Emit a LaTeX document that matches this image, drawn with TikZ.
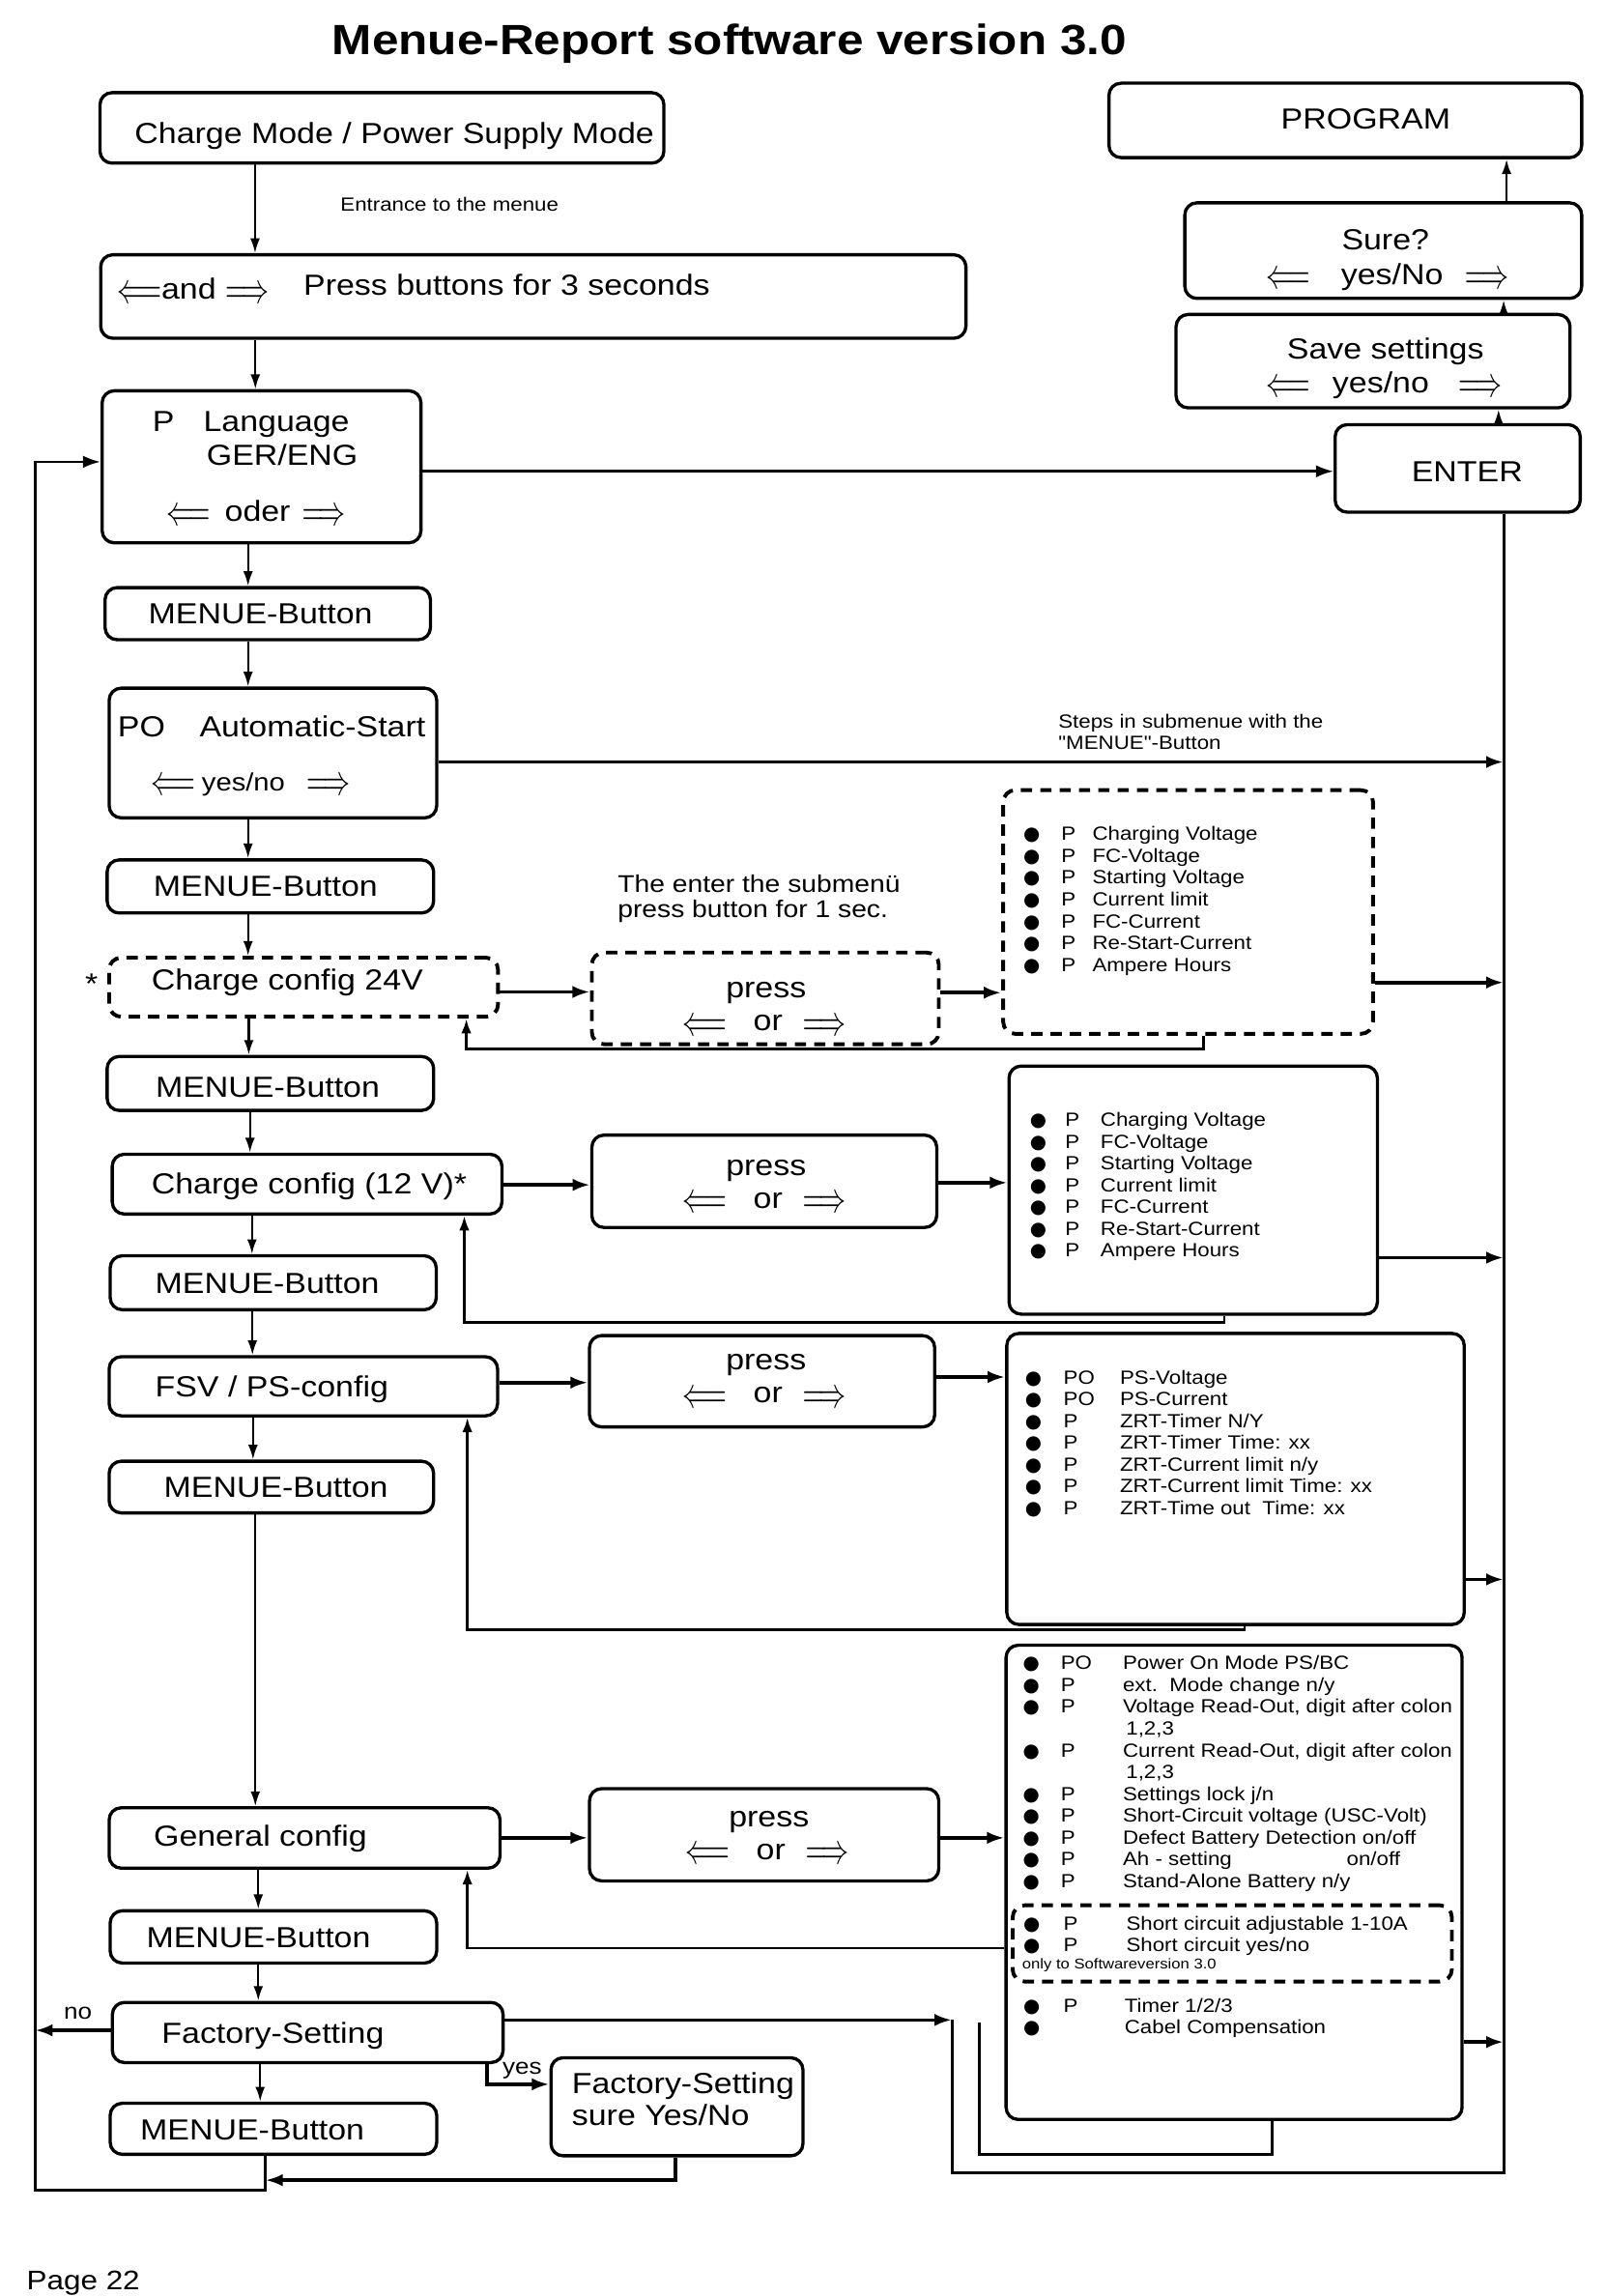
\documentclass[tikz,border=0pt]{standalone}
\usepackage{fontspec}
\usepackage{graphicx}
\setmainfont{Liberation Sans}[FakeStretch=1.13]
\newfontfamily\dotfont{DejaVu Sans}
\newfontfamily\plainfont{Liberation Sans}[FakeStretch=1.13]
\usetikzlibrary{arrows.meta, positioning, fit}

\newcommand{\leftkey}{\raisebox{-1.6pt}{\scalebox{0.92}[1.45]{$\Longleftarrow$}}}
\newcommand{\rightkey}{\raisebox{-1.6pt}{\scalebox{0.92}[1.45]{$\Longrightarrow$}}}
\newcommand{\dotmark}{{\dotfont ●}}
\newcommand{\chargeitems}[2]{%
    \begin{tabular}{@{}p{#1}@{}p{#2}@{}l@{}}
        \dotmark & P & Charging Voltage\\
        \dotmark & P & FC-Voltage\\
        \dotmark & P & Starting Voltage\\
        \dotmark & P & Current limit\\
        \dotmark & P & FC-Current\\
        \dotmark & P & Re-Start-Current\\
        \dotmark & P & Ampere Hours
    \end{tabular}}

\tikzset{
    box/.style={
        draw,
        line width=1.2pt,
        rounded corners=4.5pt,
        inner sep=0pt,
    },
    dbox/.style={
        box,
        line width=1.4pt,
        dash pattern=on 4.2pt off 3pt,
    },
    lbl/.style={
        inner sep=0pt,
        anchor=base west,
        font=\fontsize{10.8}{13}\selectfont,
    },
    note/.style={
        inner sep=0pt,
        anchor=base west,
        font=\fontsize{7.1}{8.5}\selectfont,
    },
    entries/.style={
        inner sep=0pt,
        anchor=north west,
        font=\fontsize{7.1}{8.1}\selectfont,
    },
    flow/.style={-{Latex[length=5.5pt,width=3.6pt]}, line width=0.8pt},
    link/.style={-{Latex[length=6.5pt,width=4.6pt]}, line width=1.3pt},
    back/.style={-{Latex[length=5.5pt,width=3.8pt]}, line width=1pt},
    bus/.style={line width=1.1pt},
}

\begin{document}
\begin{tikzpicture}[x=0.5432pt, y=-0.5432pt]
    \useasboundingbox (0,0) rectangle (1100,1573.5);

    \node[inner sep=0pt, anchor=base, font=\fontsize{15.75}{18}\selectfont\bfseries] (title) at (500,37.6) {Menue-Report software version 3.0};

    % left column
    \node[box, fit={(68.5,63.5) (455,111.8)}] (mode) {};
    \node[lbl] (modetxt) at (92,98.4) {Charge Mode / Power Supply Mode};
    \node[note] (entrytxt) at (233,144.7) {Entrance to the menue};

    \node[box, fit={(69,174.6) (662,231.8)}] (entry) {};
    \node[lbl] (entrykeys) at (80.4,204.7) {\leftkey and \rightkey};
    \node[lbl] (entryhint) at (207.7,202.4) {Press buttons for 3 seconds};

    \node[box, fit={(70,267.8) (288.5,372)}] (lang) {};
    \node[lbl] (langp) at (104.2,295.8) {P};
    \node[lbl] (langtxt) at (139.1,295.8) {Language};
    \node[lbl] (langval) at (141.3,319) {GER/ENG};
    \node[lbl] (langkeys) at (113.7,357) {\leftkey\hspace{5.5pt}oder\hspace{4.3pt}\rightkey};

    \node[box, fit={(72,402.7) (295,438.4)}] (menue1) {};
    \node[lbl] (menue1txt) at (101.4,427.4) {MENUE-Button};

    \node[box, fit={(74.8,471.6) (299.3,560.5)}] (auto) {};
    \node[lbl] (autop) at (80.4,505) {PO};
    \node[lbl] (autotxt) at (136.4,505) {Automatic-Start};
    \node[lbl] (autokeys) at (103.5,542) {\leftkey\hspace{2.5pt}{\fontsize{9.3}{11}\selectfont yes/no}\hspace{8pt}\rightkey};

    \node[box, fit={(73.4,589.3) (297.2,625.7)}] (menue2) {};
    \node[lbl] (menue2txt) at (104.9,614.3) {MENUE-Button};

    \node[dbox, fit={(74.8,656.3) (341.3,696.8)}] (cfg24) {};
    \node[lbl] (cfg24txt) at (103.5,678.5) {Charge config 24V};
    \node[lbl] (star) at (58,681) {*};

    \node[box, fit={(73.4,724) (297.2,761)}] (menue3) {};
    \node[lbl] (menue3txt) at (106.3,751.8) {MENUE-Button};

    \node[box, fit={(76.9,791) (344,832)}] (cfg12) {};
    \node[lbl] (cfg12txt) at (103.5,818.5) {Charge config (12 V)*};

    \node[box, fit={(75.5,860.6) (299,897.6)}] (menue4) {};
    \node[lbl] (menue4txt) at (106,886.3) {MENUE-Button};

    \node[box, fit={(74.8,929.8) (341,970.3)}] (fsv) {};
    \node[lbl] (fsvtxt) at (106,957) {FSV / PS-config};

    \node[box, fit={(74.8,1001.4) (297.2,1036.8)}] (menue5) {};
    \node[lbl] (menue5txt) at (112,1026) {MENUE-Button};

    \node[box, fit={(74.8,1238.9) (342.7,1280.3)}] (general) {};
    \node[lbl] (generaltxt) at (105,1265) {General config};

    \node[box, fit={(75.5,1309.5) (299.3,1345.3)}] (menue6) {};
    \node[lbl] (menue6txt) at (100,1334.8) {MENUE-Button};

    \node[box, fit={(77,1372.3) (344.8,1413.5)}] (factory) {};
    \node[lbl] (factorytxt) at (110.5,1400.6) {Factory-Setting};

    \node[box, fit={(75.5,1441.4) (299.3,1476.4)}] (menue7) {};
    \node[lbl] (menue7txt) at (95.8,1466.5) {MENUE-Button};

    \node[box, fit={(377.6,1410.2) (550.3,1477.4)}] (factsure) {};
    \node[lbl] (factsurea) at (391.6,1434.7) {Factory-Setting};
    \node[lbl] (factsureb) at (391.6,1456.7) {sure Yes/No};

    % selection boxes
    \node[note, font=\fontsize{9}{10}\selectfont] (hint1) at (423,611.4) {The enter the submenü};
    \node[note, font=\fontsize{9}{10}\selectfont] (hint2) at (423,628.5) {press button for 1 sec.};

    \node[dbox, fit={(405.6,652.8) (643.4,715.6)}] (sel24) {};
    \node[lbl, anchor=base] (sel24a) at (525,684) {press};
    \node[lbl, anchor=base] (sel24b) at (524,706.5) {\leftkey\hspace{10pt}or\hspace{7.5pt}\rightkey};

    \node[box, fit={(405.6,777.9) (642,841.2)}] (sel12) {};
    \node[lbl, anchor=base] (sel12a) at (525,805.7) {press};
    \node[lbl, anchor=base] (sel12b) at (524,828) {\leftkey\hspace{10pt}or\hspace{7.5pt}\rightkey};

    \node[box, fit={(404,915.3) (640.6,977.9)}] (selps) {};
    \node[lbl, anchor=base] (selpsa) at (525,938.5) {press};
    \node[lbl, anchor=base] (selpsb) at (524,961.5) {\leftkey\hspace{10pt}or\hspace{7.5pt}\rightkey};

    \node[box, fit={(404,1225.8) (643.4,1289)}] (selgen) {};
    \node[lbl, anchor=base] (selgena) at (527,1252) {press};
    \node[lbl, anchor=base] (selgenb) at (526,1274.5) {\leftkey\hspace{10pt}or\hspace{7.5pt}\rightkey};

    % parameter lists
    \node[dbox, fit={(687.5,541.5) (941,708.5)}] (list24) {};
    \node[entries] (list24txt) at (701,565.3) {\chargeitems{14.1pt}{11.6pt}};

    \node[box, fit={(691.5,730.6) (944,900.6)}] (list12) {};
    \node[entries] (list12txt) at (705.5,761.1) {\chargeitems{13.1pt}{13.2pt}};

    \node[box, fit={(690,913.8) (1003.5,1113.3)}] (listps) {};
    \node[entries] (listpstxt) at (702.2,937.7) {%
        \begin{tabular}{@{}p{14.3pt}@{}p{21pt}@{}l@{}}
            \dotmark & PO & PS-Voltage\\
            \dotmark & PO & PS-Current\\
            \dotmark & P & ZRT-Timer N/Y\\
            \dotmark & P & ZRT-Timer Time: xx\\
            \dotmark & P & ZRT-Current limit n/y\\
            \dotmark & P & ZRT-Current limit Time: xx\\
            \dotmark & P & ZRT-Time out\ \ Time: xx
        \end{tabular}};

    \node[box, fit={(689.5,1127.5) (1002,1452.5)}] (listgen) {};
    \node[entries] (listgentxt) at (700.7,1133.5) {%
        \begin{tabular}{@{}p{14.1pt}@{}p{23.1pt}@{}l@{}}
            \dotmark & PO & Power On Mode PS/BC\\
            \dotmark & P & ext.\ \ Mode change n/y\\
            \dotmark & P & Voltage Read-Out, digit after colon\\
              &   & \hspace{1.2pt}1,2,3\\
            \dotmark & P & Current Read-Out, digit after colon\\
              &   & \hspace{1.2pt}1,2,3\\
            \dotmark & P & Settings lock j/n\\
            \dotmark & P & Short-Circuit voltage (USC-Volt)\\
            \dotmark & P & Defect Battery Detection on/off\\
            \dotmark & P & \makebox[83.3pt][l]{Ah - setting}on/off\\
            \dotmark & P & Stand-Alone Battery n/y
        \end{tabular}};
    \node[dbox, fit={(694,1305.7) (995,1358)}] (listsc) {};
    \node[entries] (listsctxt) at (701,1311.9) {%
        \begin{tabular}{@{}p{14.9pt}@{}p{23.4pt}@{}l@{}}
            \dotmark & P & Short circuit adjustable 1-10A\\
            \dotmark & P & Short circuit yes/no
        \end{tabular}};
    \node[note, font=\fontsize{5.3}{6}\selectfont] (scnote) at (700.2,1349.2) {only to Softwareversion 3.0};
    \node[entries] (listtimer) at (701,1368.2) {%
        \begin{tabular}{@{}p{14.9pt}@{}p{22.8pt}@{}l@{}}
            \dotmark & P & Timer 1/2/3\\
            \dotmark &   & Cabel Compensation
        \end{tabular}};

    % right column
    \node[box, fit={(760,57) (1084,108)}] (program) {};
    \node[lbl, anchor=base] (programtxt) at (936,88.7) {PROGRAM};
    \node[box, fit={(812,139) (1084,204.5)}] (sure) {};
    \node[lbl, anchor=base] (suretxt) at (949.5,171) {Sure?};
    \node[lbl] (surekeys) at (867.5,195) {\leftkey\hspace{11.6pt}yes/No\hspace{8.1pt}\rightkey};
    \node[box, fit={(806,215.5) (1076,279.5)}] (save) {};
    \node[lbl, anchor=base] (savetxt) at (949.5,246) {Save settings};
    \node[lbl] (savekeys) at (867.5,269) {\leftkey\hspace{8.4pt}yes/no\hspace{10.9pt}\rightkey};
    \node[box, fit={(915,291) (1083,351)}] (enter) {};
    \node[lbl, anchor=base] (entertxt) at (1005.5,330) {ENTER};

    \node[note] (steps1) at (725,499) {Steps in submenue with the};
    \node[note] (steps2) at (725,513.7) {{\plainfont "MENUE"}-Button};
    \node[lbl, font=\fontsize{8.3}{10}\selectfont] (notxt) at (43.4,1383.5) {no};
    \node[lbl, font=\fontsize{8.3}{10}\selectfont] (yestxt) at (344,1421.4) {yes};
    \node[lbl, font=\fontsize{10}{12}\selectfont] (page) at (18,1569) {Page 22};

    % main chain
    \draw[flow] (mode.south -| 174.8,0) -- (entry.north -| 174.8,0);
    \draw[flow] (entry.south -| 175,0) -- (lang.north -| 175,0);
    \draw[flow] (lang.south -| 170,0) -- (menue1.north -| 170,0);
    \draw[flow] (menue1.south -| 170,0) -- (auto.north -| 170,0);
    \draw[flow] (auto.south -| 170,0) -- (menue2.north -| 170,0);
    \draw[flow] (menue2.south -| 170,0) -- (cfg24.north -| 170,0);
    \draw[flow] (cfg24.south -| 170.5,0) -- (menue3.north -| 170.5,0);
    \draw[flow] (menue3.south -| 171.3,0) -- (cfg12.north -| 171.3,0);
    \draw[flow] (cfg12.south -| 172.7,0) -- (menue4.north -| 172.7,0);
    \draw[flow] (menue4.south -| 173,0) -- (fsv.north -| 173,0);
    \draw[flow] (fsv.south -| 173.4,0) -- (menue5.north -| 173.4,0);
    \draw[flow] (menue5.south -| 175,0) -- (general.north -| 175,0);
    \draw[flow] (general.south -| 177,0) -- (menue6.north -| 177,0);
    \draw[flow] (menue6.south -| 177,0) -- (factory.north -| 177,0);
    \draw[flow] (factory.south -| 178.3,0) -- (menue7.north -| 178.3,0);

    % program path
    \draw[link, line width=0.9pt] (lang.east |- 0,323) -- (enter.west |- 0,323);
    \draw[flow] (enter.north -| 1027,0) -- (save.south -| 1027,0);
    \draw[flow] (save.north -| 1030.5,0) -- (sure.south -| 1030.5,0);
    \draw[flow] (sure.north -| 1032.5,0) -- (program.south -| 1032.5,0);

    % submenues
    \draw[link] (cfg24.east |- 0,679.8) -- (sel24.west |- 0,679.8);
    \draw[link] (sel24.east |- 0,680.3) -- (list24.west |- 0,680.3);
    \draw[back] (list24.south -| 825,0) -- (825,718.7) -- (319.6,718.7) -- (cfg24.south -| 319.6,0);

    \draw[link] (cfg12.east |- 0,812) -- (sel12.west |- 0,812);
    \draw[link] (sel12.east |- 0,810.5) -- (list12.west |- 0,810.5);
    \draw[back] (list12.south -| 839,0) -- (839,906.2) -- (318.2,906.2) -- (cfg12.south -| 318.2,0);

    \draw[link] (fsv.east |- 0,947.5) -- (selps.west |- 0,947.5);
    \draw[link] (selps.east |- 0,943.7) -- (listps.west |- 0,943.7);
    \draw[back] (listps.south -| 853,0) -- (853,1117) -- (320.3,1117) -- (fsv.south -| 320.3,0);

    \draw[link] (general.east |- 0,1259.5) -- (selgen.west |- 0,1259.5);
    \draw[link] (selgen.east |- 0,1259.5) -- (listgen.west |- 0,1259.5);
    \draw[back] (listgen.west |- 0,1335) -- (320.3,1335) -- (general.south -| 320.3,0);

    % collecting line to ENTER
    \coordinate (bus) at (1030.5,351);
    \coordinate (fsjoin) at (652.4,1384.3);
    \draw[bus] (enter.south -| bus) -- (bus |- 0,1489) -- (fsjoin |- 0,1489) -- (fsjoin);
    \draw[link] (auto.east |- 0,522.2) -- (bus |- 0,522.2);
    \draw[link] (list24.east |- 0,673.3) -- (bus |- 0,673.3);
    \draw[link] (list12.east |- 0,861.9) -- (bus |- 0,861.9);
    \draw[link] (listps.east |- 0,1082.4) -- (bus |- 0,1082.4);
    \draw[link] (listgen.east |- 0,1399.4) -- (bus |- 0,1399.4);
    \draw[bus] (listgen.south -| 872,0) -- (872,1476.4) -- (671.3,1476.4) -- (671.3,1386);

    % factory setting
    \coordinate (loop) at (24,1500.9);
    \coordinate (m7drop) at (181.8,1500.9);
    \draw[link] (factory.east |- 0,1384.3) -- (fsjoin);
    \draw[link] (factory.west |- 0,1391.4) -- (loop |- 0,1391.4);
    \draw[link] (factory.south -| 333.6,0) -- (333.6,1428.4) -- (factsure.west |- 0,1428.4);
    \draw[link] (factsure.south -| 463,0) -- (463,1494.1) -- (m7drop |- 0,1494.1);
    \draw[link, line width=1pt] (menue7.south -| m7drop) -- (m7drop) -- (loop) -- (loop |- 0,316.5) -- (lang.west |- 0,316.5);
\end{tikzpicture}
\end{document}
